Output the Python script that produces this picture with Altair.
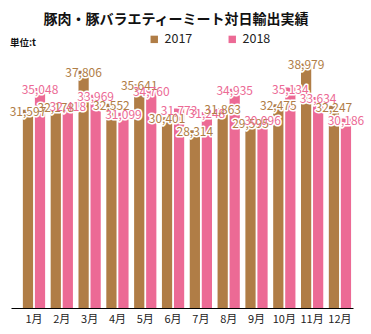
import altair as alt
import pandas as pd

months = ["1月", "2月", "3月", "4月", "5月", "6月", "7月", "8月", "9月", "10月", "11月", "12月"]
v2017 = [31597, 32178, 37806, 32552, 35641, 30401, 28314, 31863, 29595, 32475, 38979, 32247]
v2018 = [35048, 32418, 33969, 31099, 34760, 31773, 31248, 34935, 30096, 35134, 33634, 30186]
years = ["2017", "2018"]
colors = ["#B07D46", "#EC6A95"]

rows = []
for i, m in enumerate(months):
    rows.append({"month": m, "year": "2017", "value": v2017[i]})
    rows.append({"month": m, "year": "2018", "value": v2018[i]})
df = pd.DataFrame(rows)
df["label"] = df["value"].map(lambda v: f"{v:,}")

FONT = "Noto Sans CJK JP"

x = alt.X("month:N", sort=months, title=None,
          scale=alt.Scale(paddingInner=0.2, paddingOuter=0.248, align=0.86),
          axis=alt.Axis(labelAngle=0, ticks=False, domainColor="#000000", domainWidth=1.2,
                        labelFont=FONT, labelFontSize=11, labelColor="#222222", labelPadding=5))
xo = alt.XOffset("year:N", scale=alt.Scale(paddingInner=0.15))
y = alt.Y("value:Q", axis=None, scale=alt.Scale(domain=[0, 40000]))
color_scale = alt.Scale(domain=years, range=colors)

base = alt.Chart(df)

bars = base.mark_bar().encode(
    x=x, xOffset=xo, y=y,
    color=alt.Color("year:N", scale=color_scale, title=None,
                    legend=alt.Legend(orient="none", legendX=137, legendY=-24, direction="horizontal",
                                      symbolType="square", symbolSize=55, symbolStrokeWidth=0,
                                      labelFont=FONT, labelFontSize=12.5, labelColor="#222222",
                                      columnPadding=33, symbolOpacity=1)),
)

halo = base.mark_text(font=FONT, fontSize=12, baseline="middle", dy=2, stroke="white",
                      strokeWidth=3, strokeJoin="round", fill="white").encode(
    x=x, xOffset=xo, y=y, text="label:N")

labels = base.mark_text(font=FONT, fontSize=12, baseline="middle", dy=2).encode(
    x=x, xOffset=xo, y=y, text="label:N",
    color=alt.Color("year:N", scale=color_scale, legend=None))

unit = alt.Chart(pd.DataFrame({"t": ["単位:t"]})).mark_text(
    font=FONT, fontSize=9.5, fontWeight="bold", align="left", baseline="middle", color="#111111"
).encode(text="t:N", x=alt.value(-1), y=alt.value(-14))

chart = alt.layer(bars, halo, labels, unit).properties(
    width=342, height=251,
    padding={"left": 11, "top": 57, "right": 18, "bottom": 26},
    autosize=alt.AutoSizeParams(type="none"),
    title=alt.Title("豚肉・豚バラエティーミート対日輸出実績", font=FONT, fontSize=14,
                    fontWeight="bold", color="#111111", anchor="middle", offset=6, dx=-6),
).configure_view(stroke=None)

chart.save("out.html", embed_options={"renderer": "svg", "actions": False})
